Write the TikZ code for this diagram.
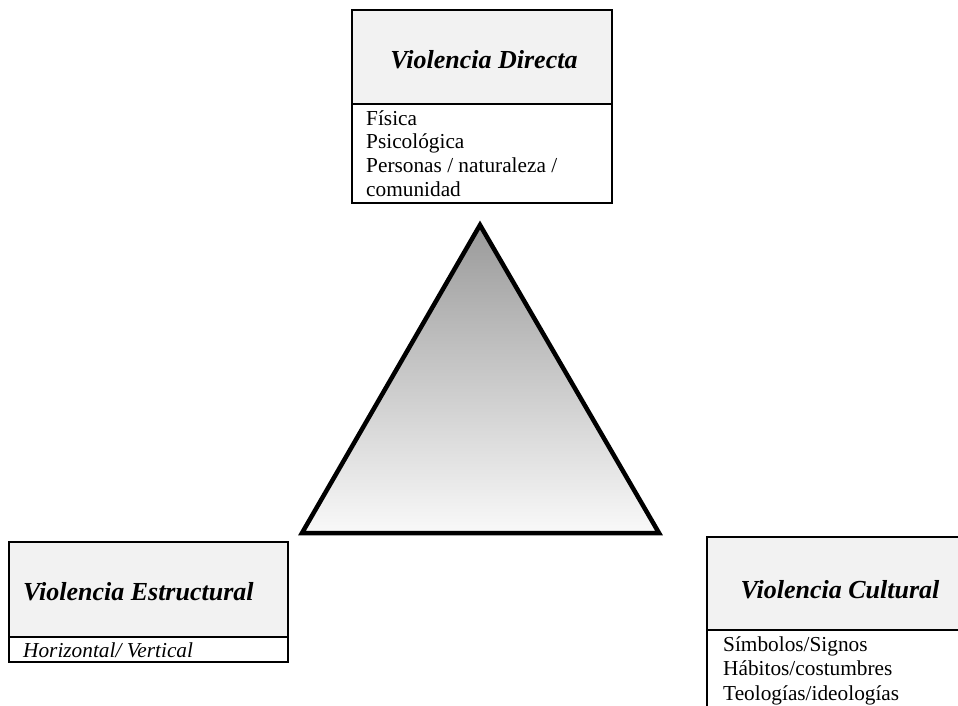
\documentclass[tikz,border=0pt]{standalone}
\usepackage{fontspec}
\setmainfont{Liberation Serif}
\definecolor{boxgray}{HTML}{F2F2F2}
\definecolor{tritop}{HTML}{9A9A9A}
\definecolor{tribot}{HTML}{F9F9F9}
\tikzset{
  titlebox/.style={draw=black, line width=1.8pt, fill=boxgray, rectangle, inner sep=0pt, outer sep=0pt},
  listbox/.style={draw=black, line width=1.8pt, fill=white, rectangle, inner sep=0pt, outer sep=0pt},
  titletext/.style={inner sep=0pt, font=\fontsize{26}{30}\selectfont\bfseries\itshape},
  itemtext/.style={inner sep=0pt, anchor=base west, font=\fontsize{21.3}{24}\selectfont},
}
\begin{document}
\begin{tikzpicture}[x=1pt,y=-1pt]
\useasboundingbox (0,0) rectangle (958,705);
\clip (0,0) rectangle (958,705);
\fill[white] (0,0) rectangle (958,705);

% triangle
\coordinate (apex) at (480,225);
\coordinate (bl) at (302,533);
\coordinate (br) at (659,533);
\shade[top color=tritop, bottom color=tribot] (apex) -- (bl) -- (br) -- cycle;
\draw[line width=4.5pt, line join=miter] (apex) -- (bl) -- (br) -- cycle;

% Violencia Directa
\node[titlebox, minimum width=260pt, minimum height=94pt] (dtbox) at (482,57) {};
\node[listbox, minimum width=260pt, minimum height=99pt, anchor=north] (dlbox) at (dtbox.south) {};
\node[titletext, anchor=base] (dt) at (484,68) {Violencia Directa};
\node[itemtext] (d1) at (366,125) {Física};
\node[itemtext] (d2) at (366,148) {Psicológica};
\node[itemtext] (d3) at (366,172) {Personas / naturaleza /};
\node[itemtext] (d4) at (366,196) {comunidad};

% Violencia Estructural
\node[titlebox, minimum width=279pt, minimum height=95pt] (etbox) at (148.5,589.5) {};
\node[listbox, minimum width=279pt, minimum height=25pt, anchor=north] (elbox) at (etbox.south) {};
\node[titletext, anchor=base west] (et) at (23,600) {Violencia Estructural};
\node[itemtext, font=\fontsize{21.3}{24}\selectfont\itshape] (e1) at (23,657) {Horizontal/ Vertical};

% Violencia Cultural
\node[titlebox, minimum width=266pt, minimum height=93pt] (ctbox) at (840,583.5) {};
\node[listbox, minimum width=266pt, minimum height=120pt, anchor=north] (clbox) at (ctbox.south) {};
\node[titletext, anchor=base] (ct) at (840,598) {Violencia Cultural};
\node[itemtext] (c1) at (723,651) {Símbolos/Signos};
\node[itemtext] (c2) at (723,675) {Hábitos/costumbres};
\node[itemtext] (c3) at (723,700) {Teologías/ideologías};
\end{tikzpicture}
\end{document}
